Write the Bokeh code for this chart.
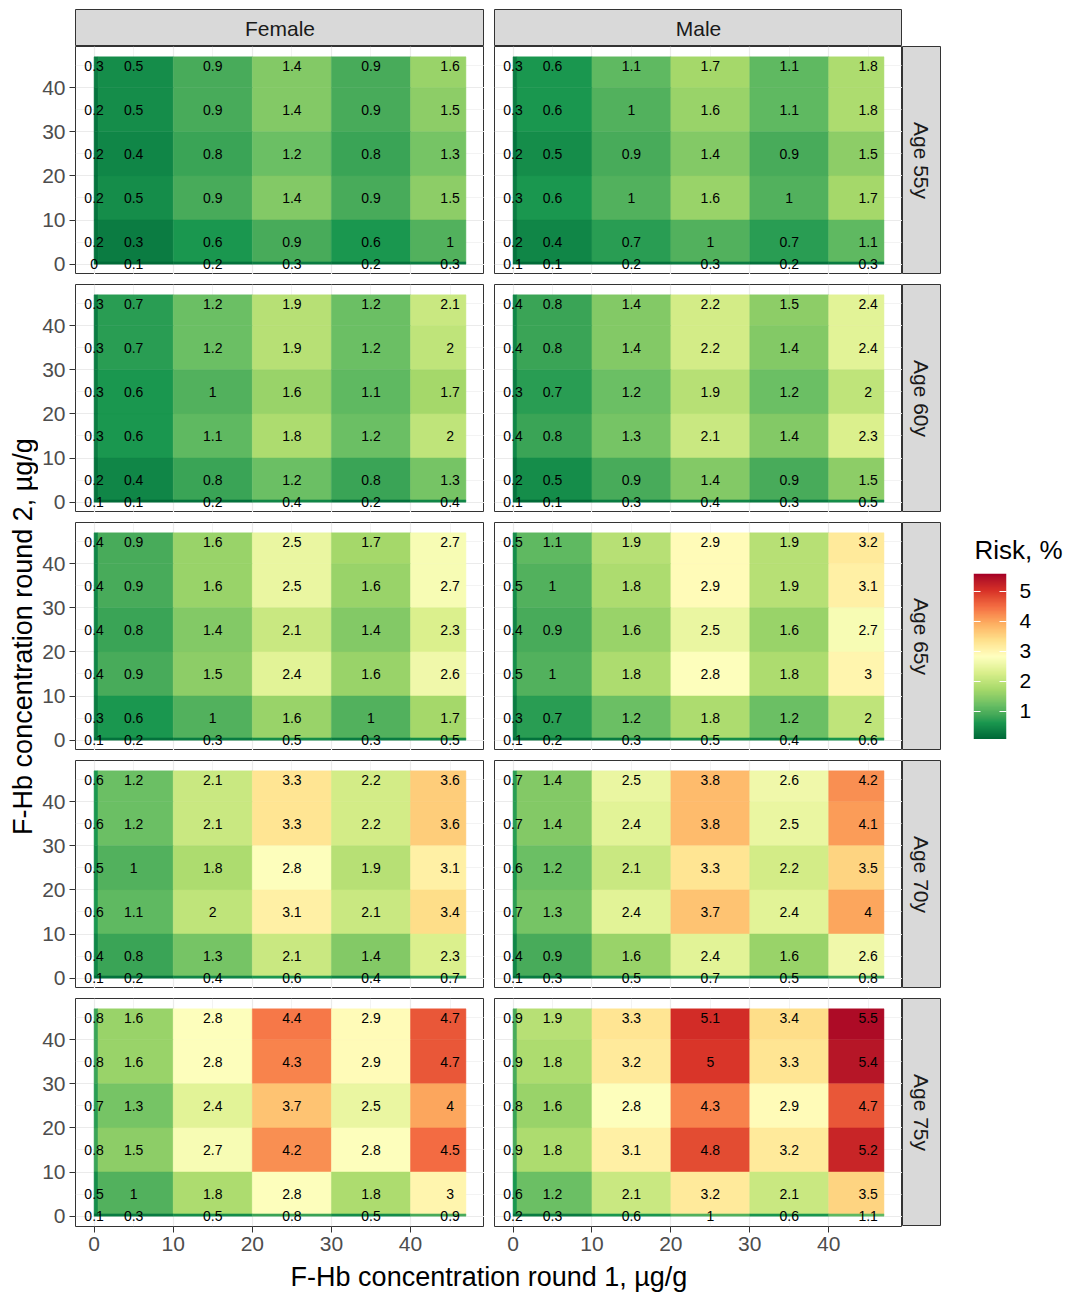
import numpy as np
from bokeh.plotting import figure
from bokeh.models import (Range1d, FixedTicker, ColumnDataSource, LinearColorMapper,
                          Grid, LinearAxis)
from bokeh.layouts import row, column
from bokeh.embed import file_html
from bokeh.resources import INLINE
from bokeh.core.properties import value

# ---------------- data ----------------
# F-Hb round 1 bins (columns) and round 2 bins (rows, listed top -> bottom)
x_bin_pos = [0, 5, 15, 25, 35, 45]
x_bin_lo = [0, 0.5, 10, 20, 30, 40]
x_bin_hi = [0.5, 10, 20, 30, 40, 47]
y_bin_pos = [45, 35, 25, 15, 5, 0]
y_bin_lo = [40, 30, 20, 10, 0.5, 0]
y_bin_hi = [47, 40, 30, 20, 10, 0.5]

sexes = ["Female", "Male"]
ages = ["Age 55y", "Age 60y", "Age 65y", "Age 70y", "Age 75y"]
axis_ticks = [0, 10, 20, 30, 40]
legend_ticks = [1, 2, 3, 4, 5]

female_55 = [[0.3, 0.5, 0.9, 1.4, 0.9, 1.6],
             [0.2, 0.5, 0.9, 1.4, 0.9, 1.5],
             [0.2, 0.4, 0.8, 1.2, 0.8, 1.3],
             [0.2, 0.5, 0.9, 1.4, 0.9, 1.5],
             [0.2, 0.3, 0.6, 0.9, 0.6, 1],
             [0, 0.1, 0.2, 0.3, 0.2, 0.3]]
male_55 = [[0.3, 0.6, 1.1, 1.7, 1.1, 1.8],
           [0.3, 0.6, 1, 1.6, 1.1, 1.8],
           [0.2, 0.5, 0.9, 1.4, 0.9, 1.5],
           [0.3, 0.6, 1, 1.6, 1, 1.7],
           [0.2, 0.4, 0.7, 1, 0.7, 1.1],
           [0.1, 0.1, 0.2, 0.3, 0.2, 0.3]]
female_60 = [[0.3, 0.7, 1.2, 1.9, 1.2, 2.1],
             [0.3, 0.7, 1.2, 1.9, 1.2, 2],
             [0.3, 0.6, 1, 1.6, 1.1, 1.7],
             [0.3, 0.6, 1.1, 1.8, 1.2, 2],
             [0.2, 0.4, 0.8, 1.2, 0.8, 1.3],
             [0.1, 0.1, 0.2, 0.4, 0.2, 0.4]]
male_60 = [[0.4, 0.8, 1.4, 2.2, 1.5, 2.4],
           [0.4, 0.8, 1.4, 2.2, 1.4, 2.4],
           [0.3, 0.7, 1.2, 1.9, 1.2, 2],
           [0.4, 0.8, 1.3, 2.1, 1.4, 2.3],
           [0.2, 0.5, 0.9, 1.4, 0.9, 1.5],
           [0.1, 0.1, 0.3, 0.4, 0.3, 0.5]]
female_65 = [[0.4, 0.9, 1.6, 2.5, 1.7, 2.7],
             [0.4, 0.9, 1.6, 2.5, 1.6, 2.7],
             [0.4, 0.8, 1.4, 2.1, 1.4, 2.3],
             [0.4, 0.9, 1.5, 2.4, 1.6, 2.6],
             [0.3, 0.6, 1, 1.6, 1, 1.7],
             [0.1, 0.2, 0.3, 0.5, 0.3, 0.5]]
male_65 = [[0.5, 1.1, 1.9, 2.9, 1.9, 3.2],
           [0.5, 1, 1.8, 2.9, 1.9, 3.1],
           [0.4, 0.9, 1.6, 2.5, 1.6, 2.7],
           [0.5, 1, 1.8, 2.8, 1.8, 3],
           [0.3, 0.7, 1.2, 1.8, 1.2, 2],
           [0.1, 0.2, 0.3, 0.5, 0.4, 0.6]]
female_70 = [[0.6, 1.2, 2.1, 3.3, 2.2, 3.6],
             [0.6, 1.2, 2.1, 3.3, 2.2, 3.6],
             [0.5, 1, 1.8, 2.8, 1.9, 3.1],
             [0.6, 1.1, 2, 3.1, 2.1, 3.4],
             [0.4, 0.8, 1.3, 2.1, 1.4, 2.3],
             [0.1, 0.2, 0.4, 0.6, 0.4, 0.7]]
male_70 = [[0.7, 1.4, 2.5, 3.8, 2.6, 4.2],
           [0.7, 1.4, 2.4, 3.8, 2.5, 4.1],
           [0.6, 1.2, 2.1, 3.3, 2.2, 3.5],
           [0.7, 1.3, 2.4, 3.7, 2.4, 4],
           [0.4, 0.9, 1.6, 2.4, 1.6, 2.6],
           [0.1, 0.3, 0.5, 0.7, 0.5, 0.8]]
female_75 = [[0.8, 1.6, 2.8, 4.4, 2.9, 4.7],
             [0.8, 1.6, 2.8, 4.3, 2.9, 4.7],
             [0.7, 1.3, 2.4, 3.7, 2.5, 4],
             [0.8, 1.5, 2.7, 4.2, 2.8, 4.5],
             [0.5, 1, 1.8, 2.8, 1.8, 3],
             [0.1, 0.3, 0.5, 0.8, 0.5, 0.9]]
male_75 = [[0.9, 1.9, 3.3, 5.1, 3.4, 5.5],
           [0.9, 1.8, 3.2, 5, 3.3, 5.4],
           [0.8, 1.6, 2.8, 4.3, 2.9, 4.7],
           [0.9, 1.8, 3.1, 4.8, 3.2, 5.2],
           [0.6, 1.2, 2.1, 3.2, 2.1, 3.5],
           [0.2, 0.3, 0.6, 1, 0.6, 1.1]]

panels = {("Female", "Age 55y"): female_55, ("Male", "Age 55y"): male_55,
          ("Female", "Age 60y"): female_60, ("Male", "Age 60y"): male_60,
          ("Female", "Age 65y"): female_65, ("Male", "Age 65y"): male_65,
          ("Female", "Age 70y"): female_70, ("Male", "Age 70y"): male_70,
          ("Female", "Age 75y"): female_75, ("Male", "Age 75y"): male_75}

# ---------------- colour scale (RdYlGn, reversed, Lab interpolation) ----------------
rdylgn = ['#006837', '#1a9850', '#66bd63', '#a6d96a', '#d9ef8b', '#ffffbf',
          '#fee08b', '#fdae61', '#f46d43', '#d73027', '#a50026']
M = np.array([[0.4124, 0.3576, 0.1805], [0.2126, 0.7152, 0.0722], [0.0193, 0.1192, 0.9505]])
WHITE = np.array([0.95047, 1.0, 1.08883])


def to_lab(h):
    rgb = np.array([int(h[i:i + 2], 16) for i in (1, 3, 5)]) / 255.0
    c = np.where(rgb <= 0.04045, rgb / 12.92, ((rgb + 0.055) / 1.055) ** 2.4)
    xyz = M @ c / WHITE
    f = np.where(xyz > 0.008856, np.cbrt(xyz), 7.787 * xyz + 16 / 116)
    return np.array([116 * f[1] - 16, 500 * (f[0] - f[1]), 200 * (f[1] - f[2])])


def from_lab(lab):
    L, a, b = lab
    fy = (L + 16) / 116
    f = np.array([fy + a / 500, fy, fy - b / 200])
    xyz = np.where(f ** 3 > 0.008856, f ** 3, (f - 16 / 116) / 7.787) * WHITE
    c = np.linalg.inv(M) @ xyz
    c = np.clip(c, 0, None)
    rgb = np.where(c <= 0.0031308, 12.92 * c, 1.055 * c ** (1 / 2.4) - 0.055)
    rgb = np.clip(rgb, 0, 1)
    return "#%02x%02x%02x" % tuple(int(round(v * 255)) for v in rgb)


labs = np.array([to_lab(h) for h in rdylgn])
anchors = np.linspace(0, 1, len(rdylgn))
palette = []
for t in np.linspace(0, 1, 256):
    palette.append(from_lab([np.interp(t, anchors, labs[:, k]) for k in range(3)]))

RISK_LOW, RISK_HIGH = 0.05, 5.6
mapper = LinearColorMapper(palette=palette, low=RISK_LOW, high=RISK_HIGH)

# ---------------- styling ----------------
FONT = "Liberation Sans"
PANEL_W = {"Female": 409, "Male": 408}
PANEL_H = 228
GAP = 10
LEFT_PAD = 37
YTITLE_W = 38
TOP_PAD = 9
STRIP_H = 37
STRIP_W = 38


def make_ticker():
    return FixedTicker(ticks=axis_ticks, minor_ticks=[5, 15, 25, 35, 45])


def make_axis():
    return LinearAxis(ticker=make_ticker(), axis_line_color=None,
                      major_tick_line_color="#333333", major_tick_out=6, major_tick_in=0,
                      minor_tick_line_color=None, major_label_standoff=4,
                      major_label_text_font=FONT, major_label_text_font_size="21px",
                      major_label_text_color="#4D4D4D")


def blank_fig(fw, fh, **kw):
    opts = dict(frame_width=fw, frame_height=fh,
                x_range=Range1d(0, 1), y_range=Range1d(0, 1),
                x_axis_type=None, y_axis_type=None,
                min_border_left=0, min_border_right=0, min_border_top=0,
                min_border_bottom=0, toolbar_location=None, output_backend="svg",
                outline_line_color=None, border_fill_color="white")
    opts.update(kw)
    return figure(**opts)


def make_panel(sex, age, r):
    is_left = sex == "Female"
    is_bottom = r == len(ages) - 1
    p = figure(frame_width=PANEL_W[sex], frame_height=PANEL_H,
               x_range=Range1d(-2.35, 49.35), y_range=Range1d(-2.35, 49.35),
               x_axis_type=None, y_axis_type=None,
               min_border_left=LEFT_PAD if is_left else GAP, min_border_right=0,
               min_border_top=0 if r == 0 else GAP,
               min_border_bottom=36 if is_bottom else 0,
               toolbar_location=None, output_backend="svg",
               background_fill_color="white", border_fill_color="white",
               outline_line_color="#333333", outline_line_width=1)
    for dim in (0, 1):
        p.add_layout(Grid(dimension=dim, ticker=make_ticker(),
                          grid_line_color="#EBEBEB", grid_line_width=1.2,
                          minor_grid_line_color="#EBEBEB", minor_grid_line_width=0.6))
    if is_left:
        p.add_layout(make_axis(), "left")
    if is_bottom:
        p.add_layout(make_axis(), "below")

    m = panels[(sex, age)]
    d = dict(left=[], right=[], bottom=[], top=[], xm=[], ym=[], risk=[], label=[])
    for i, vals in enumerate(m):
        for j, v in enumerate(vals):
            d["left"].append(x_bin_lo[j]); d["right"].append(x_bin_hi[j])
            d["bottom"].append(y_bin_lo[i]); d["top"].append(y_bin_hi[i])
            d["xm"].append(x_bin_pos[j]); d["ym"].append(y_bin_pos[i])
            d["risk"].append(v); d["label"].append(f"{v:g}")
    src = ColumnDataSource(d)
    cmap = {"field": "risk", "transform": mapper}
    p.quad(left="left", right="right", bottom="bottom", top="top", source=src,
           fill_color=cmap, line_color=cmap, line_width=0.5)
    p.text(x="xm", y="ym", text="label", source=src, text_font=value(FONT),
           text_font_size="14px", text_color="black", text_align="center",
           text_baseline="middle")
    return p


def make_top_strip(sex):
    is_left = sex == "Female"
    p = blank_fig(PANEL_W[sex], STRIP_H,
                  min_border_left=LEFT_PAD if is_left else GAP, min_border_top=TOP_PAD,
                  background_fill_color="#D9D9D9", outline_line_color="#333333")
    p.text(x=[0.5], y=[0.5], text=[sex], text_font=value(FONT), text_font_size="21px",
           text_color="#1A1A1A", text_align="center", text_baseline="middle")
    return p


def make_right_strip(age, r):
    p = blank_fig(STRIP_W, PANEL_H, min_border_top=0 if r == 0 else GAP,
                  min_border_right=1,
                  background_fill_color="#D9D9D9", outline_line_color="#333333")
    p.text(x=[0.5], y=[0.5], text=[age], angle=-np.pi / 2, text_font=value(FONT),
           text_font_size="21px", text_color="#1A1A1A", text_align="center",
           text_baseline="middle")
    return p


# y-axis title
total_panel_h = PANEL_H * len(ages) + GAP * (len(ages) - 1)
ytitle = blank_fig(YTITLE_W, total_panel_h, min_border_top=TOP_PAD + STRIP_H)
ytitle.text(x=[0.58], y=[0.5], text=["F-Hb concentration round 2, µg/g"], angle=np.pi / 2,
            text_font=value(FONT), text_font_size="27px", text_color="black",
            text_align="center", text_baseline="middle")

# x-axis title
xtitle = blank_fig(PANEL_W["Female"] + GAP + PANEL_W["Male"], 32, min_border_left=LEFT_PAD)
xtitle.text(x=[0.5], y=[0.56], text=["F-Hb concentration round 1, µg/g"],
            text_font=value(FONT), text_font_size="27px", text_color="black",
            text_align="center", text_baseline="middle")

# legend: colour bar drawn through the same colour mapper
bar = figure(frame_width=33, frame_height=166, title="Risk, %",
             x_range=Range1d(0, 1), y_range=Range1d(RISK_LOW, RISK_HIGH),
             x_axis_type=None, y_axis_type=None,
             min_border_left=32, min_border_right=62, min_border_top=573,
             min_border_bottom=0, toolbar_location=None, output_backend="svg",
             outline_line_color=None, border_fill_color="white")
bar.title.text_font = FONT
bar.title.text_font_size = "26px"
bar.title.text_font_style = "normal"
bar.title.text_color = "black"
bar.title.align = "left"
bar.title.offset = 1
bar.title.standoff = 18
grad = np.linspace(RISK_LOW, RISK_HIGH, 300).reshape(-1, 1)
bar.image(image=[grad], x=0, y=RISK_LOW, dw=1, dh=RISK_HIGH - RISK_LOW, color_mapper=mapper)
bar.add_layout(LinearAxis(ticker=FixedTicker(ticks=legend_ticks), axis_line_color=None,
                          major_tick_line_color="white", major_tick_in=7, major_tick_out=0,
                          minor_tick_line_color=None, major_label_standoff=13,
                          major_label_text_font=FONT, major_label_text_font_size="21px",
                          major_label_text_color="black"), "right")
bar.add_layout(LinearAxis(ticker=FixedTicker(ticks=legend_ticks), axis_line_color=None,
                          major_tick_line_color="white", major_tick_in=7, major_tick_out=0,
                          minor_tick_line_color=None, major_label_standoff=0,
                          major_label_text_font_size="1px",
                          major_label_text_color=None), "left")

rows = [row(make_top_strip("Female"), make_top_strip("Male"))]
for r, age in enumerate(ages):
    rows.append(row(make_panel("Female", age, r), make_panel("Male", age, r),
                    make_right_strip(age, r)))
rows.append(xtitle)
grid = column(*rows)
layout = row(column(ytitle), grid, column(bar))

open("out.html", "w").write(file_html(layout, INLINE))
